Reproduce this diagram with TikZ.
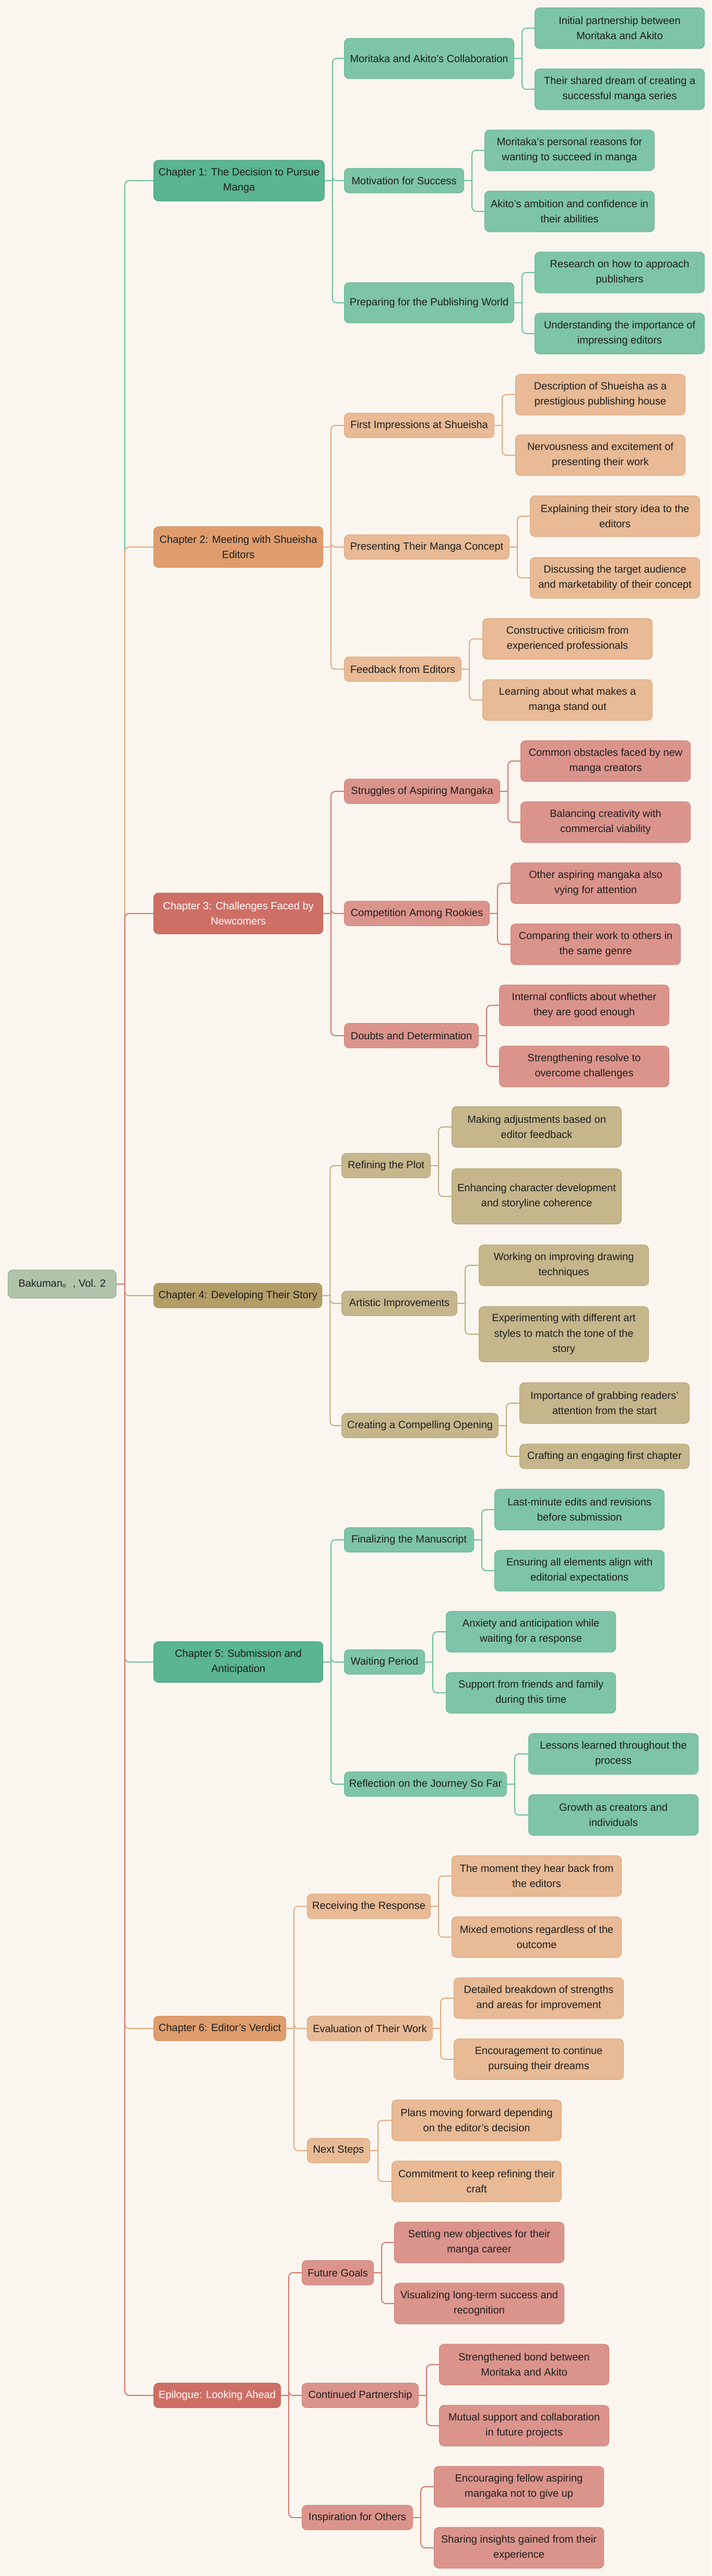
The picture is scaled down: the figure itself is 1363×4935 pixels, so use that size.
\documentclass[tikz,border=0pt]{standalone}
\usepackage{fontspec}
\setmainfont{Liberation Sans}
\newfontfamily\cjkfont{Noto Sans CJK SC}

\definecolor{bg}{HTML}{FAF6EF}
\definecolor{ink}{HTML}{1E1E1E}
\definecolor{rootfill}{HTML}{AFC4AB}
\definecolor{rootedge}{HTML}{97B092}
% green family
\definecolor{gdark}{HTML}{5AB592}
\definecolor{gedge}{HTML}{4FA383}
\definecolor{glight}{HTML}{7EC4A8}
\definecolor{gledge}{HTML}{6DB896}
\definecolor{gline}{HTML}{6FBE9E}
% orange family
\definecolor{odark}{HTML}{DF9D6D}
\definecolor{oedge}{HTML}{D38E5C}
\definecolor{olight}{HTML}{E8BA95}
\definecolor{oledge}{HTML}{E0AB82}
\definecolor{oline}{HTML}{E5A87D}
% red family
\definecolor{rdark}{HTML}{CE6F66}
\definecolor{redge}{HTML}{C45E55}
\definecolor{rlight}{HTML}{DB948C}
\definecolor{rledge}{HTML}{D0857C}
\definecolor{rline}{HTML}{D3786F}
% tan family
\definecolor{tdark}{HTML}{B39E68}
\definecolor{tedge}{HTML}{A89260}
\definecolor{tlight}{HTML}{C5B68C}
\definecolor{tledge}{HTML}{B9A87C}
\definecolor{tline}{HTML}{C0AE7D}

\tikzset{
  box/.style={rounded corners=9pt, line width=1.2pt, inner xsep=9pt, inner ysep=2pt,
    align=center, anchor=west, text=ink, font=\fontsize{20}{29.5}\selectfont},
  rootbox/.style={box, anchor=center, fill=rootfill, draw=rootedge, minimum width=207pt, minimum height=54pt},
  chap/.style={box, fill=#1dark, draw=#1edge, minimum height=78pt, minimum width=324pt},
  sub/.style={box, fill=#1light, draw=#1ledge, minimum height=47pt},
  leaf/.style={box, fill=#1light, draw=#1ledge, minimum height=78pt, minimum width=325pt},
  link/.style={draw=#1line, line width=2pt, rounded corners=8pt},
}

\begin{document}
\begin{tikzpicture}[x=1pt,y=-1pt]
\fill[bg] (0,0) rectangle (1363,4935);

\node[rootbox] (root) at (119,2460) {Bakuman{\cjkfont 。}, Vol. 2};

% chapters
\node[chap=g] (ch1) at (294,346) {Chapter 1: The Decision to Pursue\\Manga};
\node[chap=o] (ch2) at (294,1048) {Chapter 2: Meeting with Shueisha\\Editors};
\node[chap=r, text=white] (ch3) at (294,1750) {Chapter 3: Challenges Faced by\\Newcomers};
\node[chap=t, minimum height=47pt, minimum width=320pt] (ch4) at (294,2482) {Chapter 4: Developing Their Story};
\node[chap=g] (ch5) at (294,3184) {Chapter 5: Submission and\\Anticipation};
\node[chap=o, minimum height=47pt, minimum width=253pt] (ch6) at (294,3886) {Chapter 6: Editor's Verdict};
\node[chap=r, text=white, minimum height=47pt, minimum width=243pt] (ch7) at (294,4589) {Epilogue: Looking Ahead};

% chapter 1
\node[sub=g, minimum width=325pt, minimum height=77pt] (s11) at (659,112) {Moritaka and Akito's Collaboration};
\node[sub=g, minimum width=229pt] (s12) at (659,346) {Motivation for Success};
\node[sub=g, minimum width=325pt, minimum height=77pt] (s13) at (659,580) {Preparing for the Publishing World};
\node[leaf=g] (l111) at (1024,54) {Initial partnership between\\Moritaka and Akito};
\node[leaf=g] (l112) at (1024,171) {Their shared dream of creating a\\successful manga series};
\node[leaf=g] (l121) at (928,288) {Moritaka's personal reasons for\\wanting to succeed in manga};
\node[leaf=g] (l122) at (928,405) {Akito's ambition and confidence in\\their abilities};
\node[leaf=g] (l131) at (1024,522) {Research on how to approach\\publishers};
\node[leaf=g] (l132) at (1024,639) {Understanding the importance of\\impressing editors};

% chapter 2
\node[sub=o, minimum width=287pt] (s21) at (659,815) {First Impressions at Shueisha};
\node[sub=o, minimum width=316pt] (s22) at (659,1048) {Presenting Their Manga Concept};
\node[sub=o, minimum width=224pt] (s23) at (659,1282) {Feedback from Editors};
\node[leaf=o] (l211) at (987,756) {Description of Shueisha as a\\prestigious publishing house};
\node[leaf=o] (l212) at (987,872) {Nervousness and excitement of\\presenting their work};
\node[leaf=o] (l221) at (1015,989) {Explaining their story idea to the\\editors};
\node[leaf=o] (l222) at (1015,1107) {Discussing the target audience\\and marketability of their concept};
\node[leaf=o] (l231) at (924,1224) {Constructive criticism from\\experienced professionals};
\node[leaf=o] (l232) at (924,1341) {Learning about what makes a\\manga stand out};

% chapter 3
\node[sub=r, minimum width=298pt] (s31) at (659,1516) {Struggles of Aspiring Mangaka};
\node[sub=r, minimum width=278pt] (s32) at (659,1750) {Competition Among Rookies};
\node[sub=r, minimum width=257pt] (s33) at (659,1984) {Doubts and Determination};
\node[leaf=r] (l311) at (997,1458) {Common obstacles faced by new\\manga creators};
\node[leaf=r] (l312) at (997,1575) {Balancing creativity with\\commercial viability};
\node[leaf=r] (l321) at (978,1692) {Other aspiring mangaka also\\vying for attention};
\node[leaf=r] (l322) at (978,1809) {Comparing their work to others in\\the same genre};
\node[leaf=r] (l331) at (956,1926) {Internal conflicts about whether\\they are good enough};
\node[leaf=r] (l332) at (956,2043) {Strengthening resolve to\\overcome challenges};

% chapter 4
\node[sub=t, minimum width=170pt] (s41) at (654,2233) {Refining the Plot};
\node[sub=t, minimum width=221pt] (s42) at (654,2497) {Artistic Improvements};
\node[sub=t, minimum width=300pt] (s43) at (654,2731) {Creating a Compelling Opening};
\node[leaf=t] (l411) at (865,2159) {Making adjustments based on\\editor feedback};
\node[leaf=t, minimum height=106pt] (l412) at (865,2292) {Enhancing character development\\and storyline coherence};
\node[leaf=t] (l421) at (917,2424) {Working on improving drawing\\techniques};
\node[leaf=t, minimum height=106pt] (l422) at (917,2556) {Experimenting with different art\\styles to match the tone of the\\story};
\node[leaf=t] (l431) at (995,2688) {Importance of grabbing readers'\\attention from the start};
\node[leaf=t, minimum height=47pt] (l432) at (995,2790) {Crafting an engaging first chapter};

% chapter 5
\node[sub=g, minimum width=248pt] (s51) at (659,2950) {Finalizing the Manuscript};
\node[sub=g, minimum width=154pt] (s52) at (659,3184) {Waiting Period};
\node[sub=g, minimum width=311pt] (s53) at (659,3418) {Reflection on the Journey So Far};
\node[leaf=g] (l511) at (947,2892) {Last-minute edits and revisions\\before submission};
\node[leaf=g] (l512) at (947,3009) {Ensuring all elements align with\\editorial expectations};
\node[leaf=g] (l521) at (854,3126) {Anxiety and anticipation while\\waiting for a response};
\node[leaf=g] (l522) at (854,3243) {Support from friends and family\\during this time};
\node[leaf=g] (l531) at (1012,3360) {Lessons learned throughout the\\process};
\node[leaf=g] (l532) at (1012,3477) {Growth as creators and\\individuals};

% chapter 6
\node[sub=o, minimum width=236pt] (s61) at (588,3652) {Receiving the Response};
\node[sub=o, minimum width=240pt] (s62) at (588,3886) {Evaluation of Their Work};
\node[sub=o, minimum width=120pt] (s63) at (588,4120) {Next Steps};
\node[leaf=o] (l611) at (865,3594) {The moment they hear back from\\the editors};
\node[leaf=o] (l612) at (865,3711) {Mixed emotions regardless of the\\outcome};
\node[leaf=o] (l621) at (869,3828) {Detailed breakdown of strengths\\and areas for improvement};
\node[leaf=o] (l622) at (869,3945) {Encouragement to continue\\pursuing their dreams};
\node[leaf=o] (l631) at (750,4062) {Plans moving forward depending\\on the editor's decision};
\node[leaf=o] (l632) at (750,4179) {Commitment to keep refining their\\craft};

% epilogue
\node[sub=r, minimum width=137pt] (s71) at (578,4354) {Future Goals};
\node[sub=r, minimum width=223pt] (s72) at (578,4589) {Continued Partnership};
\node[sub=r, minimum width=212pt] (s73) at (578,4823) {Inspiration for Others};
\node[leaf=r] (l711) at (755,4296) {Setting new objectives for their\\manga career};
\node[leaf=r] (l712) at (755,4413) {Visualizing long-term success and\\recognition};
\node[leaf=r] (l721) at (841,4530) {Strengthened bond between\\Moritaka and Akito};
\node[leaf=r] (l722) at (841,4647) {Mutual support and collaboration\\in future projects};
\node[leaf=r] (l731) at (831,4764) {Encouraging fellow aspiring\\mangaka not to give up};
\node[leaf=r] (l732) at (831,4881) {Sharing insights gained from their\\experience};

% trunk
\coordinate (rootj) at ([xshift=16pt]root.east);
\draw[link=g] (rootj) |- (ch1.west);
\draw[link=o] (rootj) |- (ch2.west);
\draw[link=r] (rootj) |- (ch3.west);
\draw[link=t] (rootj) |- (ch4.west);
\draw[link=g] (rootj) |- (ch5.west);
\draw[link=o] (rootj) |- (ch6.west);
\draw[link=r] (rootj) |- (ch7.west);
\draw[link=r] (root.east) -- (rootj);

% chapter to section
\draw[link=g] (ch1.east) -- ++(15,0) coordinate (ch1j) (ch1j) |- (s11.west) (ch1j) |- (s12.west) (ch1j) |- (s13.west);
\draw[link=o] (ch2.east) -- ++(15,0) coordinate (ch2j) (ch2j) |- (s21.west) (ch2j) |- (s22.west) (ch2j) |- (s23.west);
\draw[link=r] (ch3.east) -- ++(15,0) coordinate (ch3j) (ch3j) |- (s31.west) (ch3j) |- (s32.west) (ch3j) |- (s33.west);
\draw[link=t] (ch4.east) -- ++(15,0) coordinate (ch4j) (ch4j) |- (s41.west) (ch4j) |- (s42.west) (ch4j) |- (s43.west);
\draw[link=g] (ch5.east) -- ++(15,0) coordinate (ch5j) (ch5j) |- (s51.west) (ch5j) |- (s52.west) (ch5j) |- (s53.west);
\draw[link=o] (ch6.east) -- ++(15,0) coordinate (ch6j) (ch6j) |- (s61.west) (ch6j) |- (s62.west) (ch6j) |- (s63.west);
\draw[link=r] (ch7.east) -- ++(15,0) coordinate (ch7j) (ch7j) |- (s71.west) (ch7j) |- (s72.west) (ch7j) |- (s73.west);

% section to leaves
\draw[link=g] (s11.east) -- ++(15,0) coordinate (s11j) (s11j) |- (l111.west) (s11j) |- (l112.west);
\draw[link=g] (s12.east) -- ++(15,0) coordinate (s12j) (s12j) |- (l121.west) (s12j) |- (l122.west);
\draw[link=g] (s13.east) -- ++(15,0) coordinate (s13j) (s13j) |- (l131.west) (s13j) |- (l132.west);
\draw[link=o] (s21.east) -- ++(15,0) coordinate (s21j) (s21j) |- (l211.west) (s21j) |- (l212.west);
\draw[link=o] (s22.east) -- ++(15,0) coordinate (s22j) (s22j) |- (l221.west) (s22j) |- (l222.west);
\draw[link=o] (s23.east) -- ++(15,0) coordinate (s23j) (s23j) |- (l231.west) (s23j) |- (l232.west);
\draw[link=r] (s31.east) -- ++(15,0) coordinate (s31j) (s31j) |- (l311.west) (s31j) |- (l312.west);
\draw[link=r] (s32.east) -- ++(15,0) coordinate (s32j) (s32j) |- (l321.west) (s32j) |- (l322.west);
\draw[link=r] (s33.east) -- ++(15,0) coordinate (s33j) (s33j) |- (l331.west) (s33j) |- (l332.west);
\draw[link=t] (s41.east) -- ++(15,0) coordinate (s41j) (s41j) |- (l411.west) (s41j) |- (l412.west);
\draw[link=t] (s42.east) -- ++(15,0) coordinate (s42j) (s42j) |- (l421.west) (s42j) |- (l422.west);
\draw[link=t] (s43.east) -- ++(15,0) coordinate (s43j) (s43j) |- (l431.west) (s43j) |- (l432.west);
\draw[link=g] (s51.east) -- ++(15,0) coordinate (s51j) (s51j) |- (l511.west) (s51j) |- (l512.west);
\draw[link=g] (s52.east) -- ++(15,0) coordinate (s52j) (s52j) |- (l521.west) (s52j) |- (l522.west);
\draw[link=g] (s53.east) -- ++(15,0) coordinate (s53j) (s53j) |- (l531.west) (s53j) |- (l532.west);
\draw[link=o] (s61.east) -- ++(15,0) coordinate (s61j) (s61j) |- (l611.west) (s61j) |- (l612.west);
\draw[link=o] (s62.east) -- ++(15,0) coordinate (s62j) (s62j) |- (l621.west) (s62j) |- (l622.west);
\draw[link=o] (s63.east) -- ++(15,0) coordinate (s63j) (s63j) |- (l631.west) (s63j) |- (l632.west);
\draw[link=r] (s71.east) -- ++(15,0) coordinate (s71j) (s71j) |- (l711.west) (s71j) |- (l712.west);
\draw[link=r] (s72.east) -- ++(15,0) coordinate (s72j) (s72j) |- (l721.west) (s72j) |- (l722.west);
\draw[link=r] (s73.east) -- ++(15,0) coordinate (s73j) (s73j) |- (l731.west) (s73j) |- (l732.west);
\end{tikzpicture}
\end{document}
